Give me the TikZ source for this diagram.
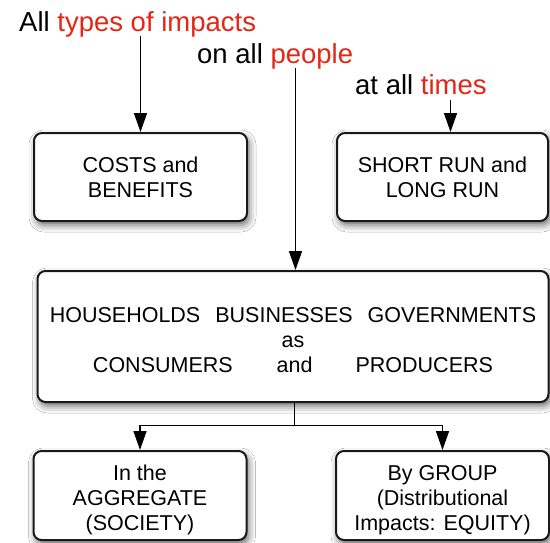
\documentclass[tikz,border=0pt]{standalone}
\usepackage{fontspec}
\setmainfont{Liberation Sans}
\usetikzlibrary{arrows.meta,shadows.blur,calc}
\definecolor{accent}{RGB}{228,38,22}
\begin{document}
\begin{tikzpicture}[x=1pt,y=-1pt,
  box/.style={draw=black!90, line width=2pt, rounded corners=8pt, fill=white,
    align=center, font=\fontsize{21.5}{25}\selectfont, inner sep=0pt,
    blur shadow={shadow xshift=2pt, shadow yshift=-4pt, shadow blur radius=7pt, shadow opacity=60}},
  title/.style={anchor=base west, inner sep=0pt, font=\fontsize{27.5}{32}\selectfont},
  arr/.style={line width=1.5pt, -{Triangle[length=19pt,width=13pt]}},
]
\useasboundingbox (0,0) rectangle (550,542);
\fill[white] (0,0) rectangle (550,542);

\node[title] (t1) at (19,31) {All \textcolor{accent}{types of impacts}};
\node[title] (t2) at (197,63) {on all \textcolor{accent}{people}};
\node[title] (t3) at (355,94) {at all \textcolor{accent}{times}};

\node[box, minimum width=213pt, minimum height=88pt] (costs) at (140.5,177) {COSTS and\\BENEFITS};
\node[box, minimum width=211pt, minimum height=88pt] (short) at (442.5,177) {SHORT RUN and\\LONG RUN};
\node[box, minimum width=511pt, minimum height=131pt] (main) at (293,336.5)
  {\rule{0pt}{21.5pt}HOUSEHOLDS\hspace{15pt}BUSINESSES\hspace{15pt}GOVERNMENTS\\as\\CONSUMERS\hspace{44pt}and\hspace{43pt}PRODUCERS};
\node[box, minimum width=213pt, minimum height=89pt] (agg) at (140,495.5) {\rule{0pt}{24pt}In the\\AGGREGATE\\(SOCIETY)};
\node[box, minimum width=213pt, minimum height=89pt] (group) at (442.5,495.5) {\rule{0pt}{24pt}By GROUP\\(Distributional\\Impacts: EQUITY)};

\coordinate (a1) at (140.5,36);
\coordinate (a2) at (295.5,68);
\coordinate (a3) at (450.5,100);
\coordinate (split) at (294.5,425.5);

\draw[arr] (a1) -- (a1 |- costs.north);
\draw[arr] (a2) -- (a2 |- main.north);
\draw[arr] (a3) -- (a3 |- short.north);
\draw[line width=1.5pt] (split |- main.south) -- (split);
\draw[arr] (split) -| (agg.north);
\draw[arr] (split) -| (group.north);
\end{tikzpicture}
\end{document}
